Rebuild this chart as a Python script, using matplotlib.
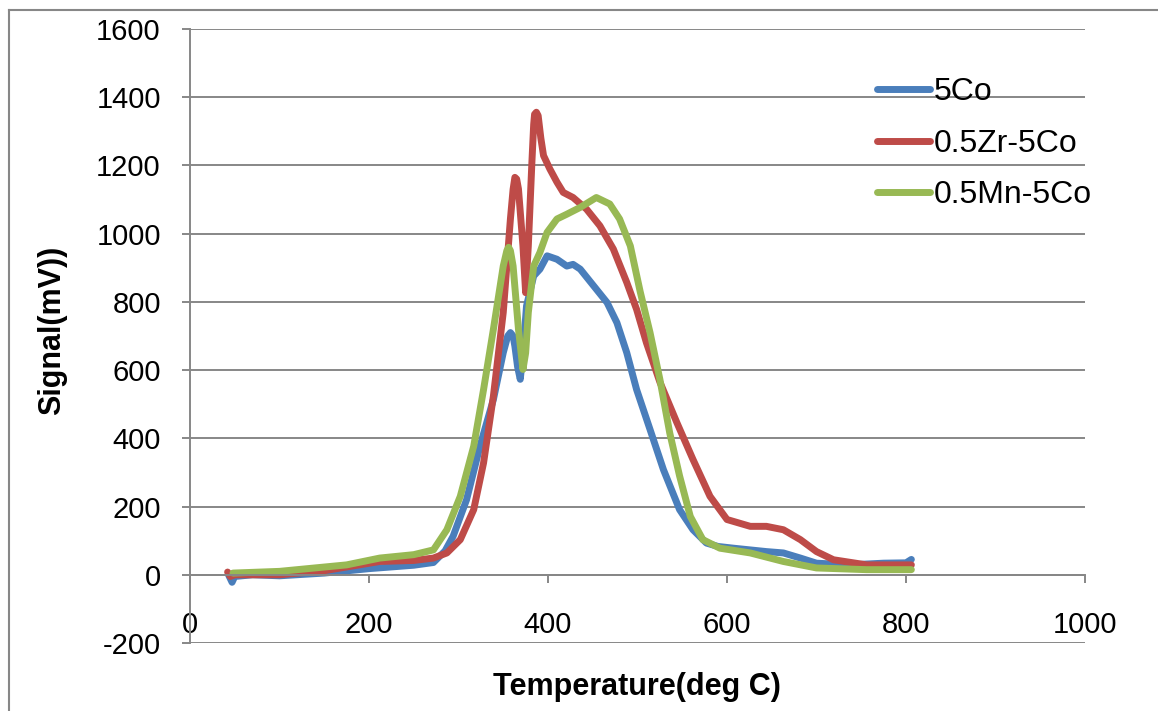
import numpy as np
import matplotlib.pyplot as plt
from matplotlib.lines import Line2D

plt.rcParams['font.family'] = ['Liberation Sans', 'DejaVu Sans']
plt.rcParams['axes.unicode_minus'] = False

# 5Co
t_co = [43, 47, 50, 70, 100, 150, 200, 250, 272, 285, 294, 309, 324, 339, 350, 355, 358, 361, 363, 366, 369,
        372, 376, 384, 391, 399, 410, 421, 428, 436, 451, 466, 477, 488, 499, 514, 529, 547, 562,
        577, 590, 607, 644, 663, 682, 700, 737, 775, 800, 806]
s_co = [0, -22, -5, 0, -3, 5, 18, 28, 36, 70, 113, 220, 377, 514, 651, 700, 710, 700, 670, 610, 573,
        650, 788, 876, 896, 935, 925, 905, 910, 896, 847, 798, 739, 651, 543, 426, 308, 191, 132,
        93, 83, 78, 68, 64, 49, 34, 29, 34, 35, 45]

# 0.5Zr-5Co
t_zr = [42, 45, 50, 100, 150, 212, 250, 272, 287, 302, 317, 328, 339, 350, 358, 361, 363, 365, 367, 372,
        375, 378, 382, 384, 385, 387, 389, 392, 395, 402, 410, 417, 428, 443, 458, 473, 488, 499, 510, 525,
        544, 562, 581, 600, 626, 644, 663, 682, 700, 719, 756, 806]
s_zr = [8, -5, 0, 0, 12, 39, 42, 49, 64, 103, 191, 328, 524, 769, 1043, 1130, 1165, 1160, 1131, 964,
        827, 964, 1209, 1320, 1350, 1356, 1346, 1280, 1229, 1190, 1151, 1121, 1106, 1072, 1023, 955, 857, 778, 680, 565,
        446, 338, 230, 162, 142, 142, 132, 103, 68, 44, 29, 29]

# 0.5Mn-5Co
t_mn = [48, 100, 175, 212, 250, 272, 287, 302, 317, 328, 339, 350, 354, 356, 358, 361, 367, 372, 375, 378,
        384, 391, 399, 410, 421, 436, 454, 469, 480, 492, 503, 514, 525, 536, 547, 559, 573,
        592, 626, 663, 700, 756, 806]
s_mn = [5, 10, 29, 49, 59, 73, 132, 230, 377, 543, 720, 905, 950, 960, 950, 905, 720, 602, 650, 769,
        905, 945, 1004, 1043, 1057, 1077, 1106, 1087, 1043, 964, 830, 710, 573, 416, 290, 171, 103,
        78, 64, 39, 20, 15, 15]

labels = ['5Co', '0.5Zr-5Co', '0.5Mn-5Co']
colors = ['#4A7EBB', '#BE4B48', '#98B954']

fig = plt.figure(figsize=(11.58, 7.11), dpi=100)
ax = fig.add_axes([190/1158, 1-643/711, (1085-190)/1158, (643-29)/711])

for t, s, c in zip([t_co, t_zr, t_mn], [s_co, s_zr, s_mn], colors):
    ax.plot(t, s, color=c, lw=5, solid_capstyle='round', solid_joinstyle='round')

ax.set_xlim(0, 1000)
ax.set_ylim(-200, 1600)
ax.set_xticks(np.arange(0, 1001, 200))
ax.set_yticks(np.arange(-200, 1601, 200))
ax.yaxis.grid(True, color='#878787', lw=1.4)
ax.set_axisbelow(True)

for sp in ['top', 'right']:
    ax.spines[sp].set_visible(False)
ax.spines['bottom'].set_position(('data', 0))
ax.spines['bottom'].set_color('#878787')
ax.spines['left'].set_color('#878787')
ax.spines['bottom'].set_linewidth(1.4)
ax.spines['left'].set_linewidth(1.4)
ax.tick_params(axis='x', direction='out', length=6, width=1.4, color='#878787', pad=20, labelsize=21)
ax.tick_params(axis='y', direction='out', length=6, width=1.4, color='#878787', pad=15, labelsize=21)

fig.text(637/1158, 1-687/711, 'Temperature(deg C)', ha='center', va='center',
         fontsize=22, fontweight='bold')
fig.text(52/1158, 1-330/711, 'Signal(mV))', ha='center', va='center', rotation=90,
         fontsize=22, fontweight='bold')

handles = [Line2D([], [], color=c, lw=5, solid_capstyle='round') for c in colors]
fig.legend(handles, labels, loc='upper left', bbox_to_anchor=(877/1158, 1-77/711),
           frameon=False, fontsize=23, handlelength=1.65, handletextpad=0.12,
           labelspacing=0.68, borderpad=0, borderaxespad=0)

# chart area border
fig.add_artist(Line2D([9/1158, 9/1158], [0, 1-10/711], color='#878787', lw=1.5))
fig.add_artist(Line2D([9/1158, 1], [1-10/711, 1-10/711], color='#878787', lw=1.5))

fig.savefig('out.png', dpi=100)
